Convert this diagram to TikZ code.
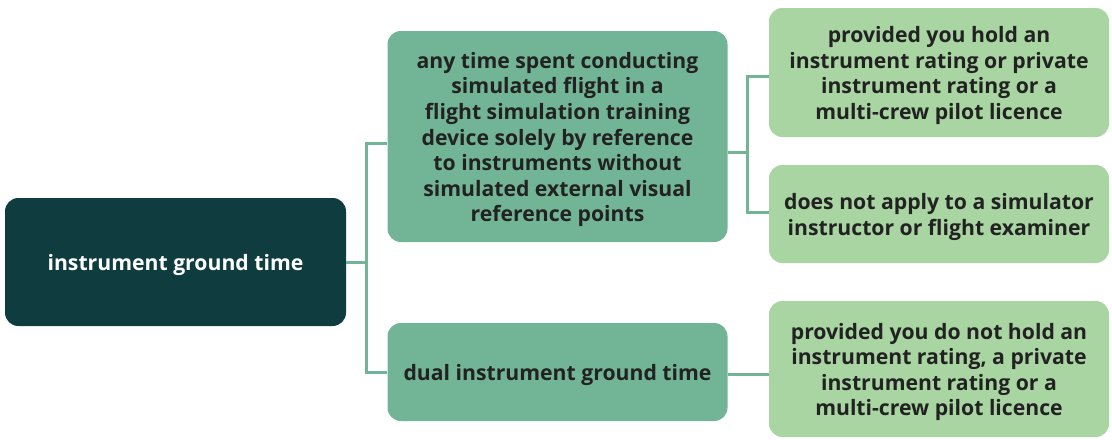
\documentclass[tikz,border=0pt]{standalone}
\usepackage{fontspec}
\setmainfont{Open Sans}
\definecolor{rootc}{HTML}{0F3D3F}
\definecolor{midc}{HTML}{72B596}
\definecolor{leafc}{HTML}{A8D5A2}
\definecolor{txtc}{HTML}{222222}
\begin{document}
\begin{tikzpicture}[x=0.75pt,y=-0.75pt,
  box/.style={rounded corners=10pt, inner sep=0pt},
  txt/.style={align=center, inner sep=0pt,
    font=\fontsize{15.9}{19.2}\selectfont\bfseries, text=txtc},
  rootbox/.style={box, fill=rootc, minimum width=255.75pt, minimum height=96pt},
  midbox/.style={box, fill=midc, minimum width=255pt},
  leafbox/.style={box, fill=leafc, minimum width=255pt},
  conn/.style={draw=midc, line width=2.25pt}]
\useasboundingbox (0,0) rectangle (1112,439);
\node[rootbox] (root) at (175.5,262) {};
\node[midbox, minimum height=158.25pt] (mid1) at (557.5,136.5) {};
\node[midbox, minimum height=73.5pt] (mid2) at (557.5,372) {};
\node[leafbox, minimum height=96.75pt] (r1) at (939,72.5) {};
\node[leafbox, minimum height=73.5pt] (r2) at (939,214) {};
\node[leafbox, minimum height=102pt] (r3) at (939,369) {};
\node[txt, text=white] (root-t) at ([yshift=-2.25pt]root.center) {instrument ground time};
\node[txt] (mid1-t) at ([yshift=-2.25pt]mid1.center) {any time spent conducting\\simulated flight in a\\flight simulation training\\device solely by reference\\to instruments without\\simulated external visual\\reference points};
\node[txt] (mid2-t) at ([yshift=-2.25pt]mid2.center) {dual instrument ground time};
\node[txt] (r1-t) at ([yshift=-2.25pt]r1.center) {provided you hold an\\instrument rating or private\\instrument rating or a\\multi-crew pilot licence};
\node[txt] (r2-t) at ([yshift=-2.25pt]r2.center) {does not apply to a simulator\\instructor or flight examiner};
\node[txt] (r3-t) at ([yshift=-2.25pt]r3.center) {provided you do not hold an\\instrument rating, a private\\instrument rating or a\\multi-crew pilot licence};
\coordinate (j1) at (366,262);
\coordinate (y143) at (0,143);
\coordinate (j2) at (747,152);
\coordinate (y76) at (0,76);
\coordinate (y212) at (0,212);
\coordinate (y374) at (0,374);
\draw[conn] (root.east) -- (j1);
\draw[conn] (mid1.west |- y143) -| (j1);
\draw[conn] (mid2.west) -| (j1);
\draw[conn] (mid1.east |- j2) -- (j2);
\draw[conn] (r1.west |- y76) -| (j2);
\draw[conn] (r2.west |- y212) -| (j2);
\draw[conn] (mid2.east |- y374) -- (r3.west |- y374);
\end{tikzpicture}
\end{document}
